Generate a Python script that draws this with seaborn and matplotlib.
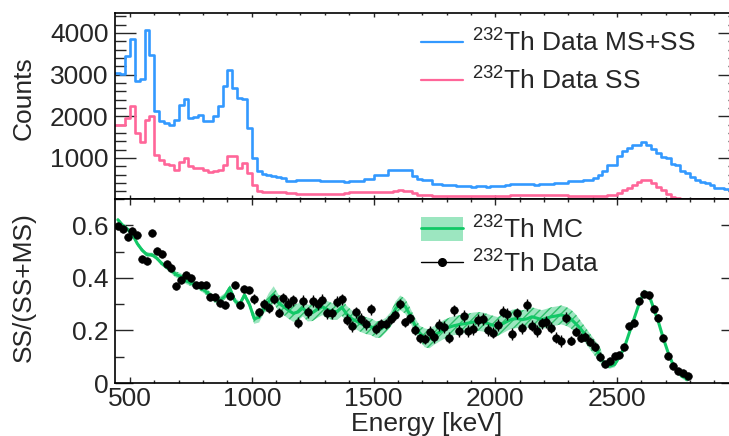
import numpy as np
import pandas as pd
import matplotlib
matplotlib.use("Agg")
import matplotlib.pyplot as plt
import seaborn as sns
from matplotlib.lines import Line2D
from matplotlib.patches import Patch
from matplotlib.ticker import MultipleLocator, FixedLocator, FuncFormatter

# ---------------------------------------------------------------- data
# 20 keV binning from 440 keV to 3000 keV
E_LOW, E_HIGH, BIN_WIDTH = 440, 3000, 20
energy_ticks = [500, 1000, 1500, 2000, 2500]

# MS+SS spectrum (counts per bin)
counts_ms_ss = [
    3050, 3020, 3440, 3850, 2840, 2890, 4080, 3480, 2120, 1880,
    1840, 1800, 1920, 2260, 2415, 1960, 1990, 2040, 1880, 1880,
    2000, 2240, 2720, 3100, 2680, 2440, 2420, 1720, 1000, 680,
    610, 600, 560, 540, 520, 450, 440, 460, 460, 470,
    470, 470, 450, 440, 440, 450, 440, 430, 440, 440,
    450, 490, 490, 590, 600, 600, 700, 720, 720, 720,
    700, 560, 500, 480, 470, 380, 370, 360, 350, 340,
    320, 330, 320, 310, 320, 320, 310, 320, 330, 320,
    340, 370, 380, 370, 380, 370, 360, 370, 380, 370,
    400, 400, 390, 450, 450, 455, 460, 470, 530, 580,
    680, 840, 840, 1040, 1160, 1230, 1310, 1320, 1375, 1320,
    1210, 1120, 1020, 1010, 860, 830, 680, 650, 545, 480,
    420, 410, 360, 280, 270, 250, 230, 210,
]

# SS spectrum (counts per bin)
counts_ss = [
    1800, 1780, 1960, 2240, 1600, 1375, 1900, 2000, 1080, 940,
    860, 840, 720, 900, 1000, 800, 760, 760, 720, 660,
    680, 720, 840, 1040, 1040, 760, 880, 640, 360, 200,
    190, 190, 185, 180, 180, 170, 160, 140, 140, 140,
    140, 135, 135, 130, 130, 135, 140, 170, 180, 180,
    175, 180, 180, 190, 190, 185, 190, 200, 220, 200,
    200, 160, 120, 120, 110, 90, 85, 80, 80, 80,
    80, 80, 80, 80, 80, 80, 80, 80, 80, 80,
    80, 110, 120, 120, 120, 120, 120, 120, 120, 120,
    120, 100, 100, 90, 90, 85, 85, 80, 80, 80,
    80, 100, 110, 150, 230, 290, 340, 420, 470, 460,
    400, 310, 225, 130, 70, 40, 25, 20, 15, 15,
    12, 12, 10, 10, 10, 10, 10, 10,
]

# SS fraction, measured (bin centres 450 ... 2790 keV)
ratio_data = [
    0.598, 0.587, 0.557, 0.577, 0.564, 0.472, 0.466, 0.570, 0.504, 0.490,
    0.453, 0.439, 0.370, 0.392, 0.411, 0.399, 0.373, 0.371, 0.373, 0.326,
    0.326, 0.304, 0.295, 0.331, 0.373, 0.295, 0.358, 0.353, 0.320, 0.269,
    0.300, 0.285, 0.319, 0.268, 0.323, 0.301, 0.314, 0.230, 0.312, 0.269,
    0.312, 0.300, 0.316, 0.265, 0.265, 0.310, 0.319, 0.240, 0.215, 0.269,
    0.244, 0.224, 0.281, 0.206, 0.224, 0.224, 0.244, 0.259, 0.300, 0.231,
    0.246, 0.202, 0.170, 0.168, 0.193, 0.176, 0.221, 0.212, 0.173, 0.276,
    0.198, 0.255, 0.198, 0.206, 0.240, 0.243, 0.202, 0.192, 0.221, 0.272,
    0.262, 0.186, 0.265, 0.208, 0.297, 0.218, 0.198, 0.227, 0.231, 0.211,
    0.173, 0.160, 0.249, 0.160, 0.195, 0.173, 0.176, 0.157, 0.138, 0.100,
    0.072, 0.085, 0.104, 0.107, 0.138, 0.217, 0.230, 0.312, 0.339, 0.333,
    0.281, 0.249, 0.170, 0.103, 0.066, 0.047, 0.039, 0.027,
]

# statistical uncertainty of the measured SS fraction
ratio_err = [
    0.008, 0.008, 0.008, 0.008, 0.008, 0.008, 0.008, 0.008, 0.010, 0.010,
    0.010, 0.010, 0.010, 0.010, 0.010, 0.010, 0.010, 0.010, 0.010, 0.010,
    0.010, 0.010, 0.010, 0.010, 0.010, 0.010, 0.010, 0.010, 0.018, 0.018,
    0.018, 0.018, 0.018, 0.018, 0.018, 0.021, 0.021, 0.021, 0.021, 0.021,
    0.021, 0.021, 0.021, 0.021, 0.021, 0.021, 0.021, 0.021, 0.021, 0.021,
    0.021, 0.021, 0.021, 0.018, 0.018, 0.018, 0.018, 0.018, 0.018, 0.018,
    0.018, 0.018, 0.018, 0.018, 0.022, 0.022, 0.022, 0.022, 0.022, 0.022,
    0.022, 0.022, 0.022, 0.022, 0.022, 0.022, 0.022, 0.022, 0.022, 0.022,
    0.022, 0.022, 0.022, 0.022, 0.022, 0.022, 0.022, 0.022, 0.022, 0.022,
    0.022, 0.022, 0.022, 0.017, 0.017, 0.017, 0.017, 0.017, 0.017, 0.017,
    0.009, 0.009, 0.009, 0.012, 0.012, 0.012, 0.012, 0.012, 0.012, 0.012,
    0.012, 0.012, 0.012, 0.008, 0.008, 0.008, 0.008, 0.008,
]

# SS fraction, simulation (bin centres 450 ... 2790 keV)
ratio_mc = [
    0.621, 0.600, 0.585, 0.565, 0.530, 0.505, 0.488, 0.488, 0.475, 0.455,
    0.440, 0.428, 0.412, 0.405, 0.388, 0.381, 0.374, 0.362, 0.349, 0.334,
    0.316, 0.315, 0.330, 0.361, 0.313, 0.298, 0.335, 0.300, 0.245, 0.250,
    0.285, 0.310, 0.336, 0.304, 0.291, 0.277, 0.265, 0.270, 0.285, 0.266,
    0.268, 0.280, 0.290, 0.280, 0.272, 0.272, 0.288, 0.262, 0.245, 0.235,
    0.225, 0.218, 0.214, 0.203, 0.205, 0.220, 0.241, 0.282, 0.305, 0.292,
    0.259, 0.220, 0.190, 0.172, 0.168, 0.182, 0.193, 0.205, 0.212, 0.218,
    0.222, 0.225, 0.228, 0.232, 0.234, 0.232, 0.226, 0.220, 0.215, 0.225,
    0.235, 0.243, 0.245, 0.241, 0.244, 0.252, 0.247, 0.241, 0.246, 0.252,
    0.255, 0.259, 0.254, 0.244, 0.226, 0.207, 0.182, 0.157, 0.132, 0.107,
    0.070, 0.064, 0.070, 0.100, 0.135, 0.190, 0.245, 0.300, 0.345, 0.338,
    0.285, 0.232, 0.170, 0.115, 0.070, 0.040, 0.025, 0.014,
]

# half width of the simulation uncertainty band
mc_band = [
    0.008, 0.008, 0.008, 0.008, 0.008, 0.008, 0.008, 0.008, 0.008, 0.008,
    0.008, 0.012, 0.012, 0.012, 0.012, 0.012, 0.012, 0.012, 0.012, 0.012,
    0.012, 0.012, 0.012, 0.012, 0.012, 0.012, 0.012, 0.012, 0.020, 0.020,
    0.020, 0.032, 0.032, 0.032, 0.032, 0.032, 0.032, 0.032, 0.032, 0.032,
    0.032, 0.032, 0.032, 0.032, 0.032, 0.032, 0.032, 0.032, 0.032, 0.032,
    0.032, 0.032, 0.032, 0.032, 0.032, 0.028, 0.028, 0.028, 0.028, 0.028,
    0.028, 0.028, 0.028, 0.036, 0.036, 0.036, 0.036, 0.036, 0.036, 0.036,
    0.036, 0.036, 0.036, 0.036, 0.036, 0.036, 0.036, 0.036, 0.036, 0.036,
    0.036, 0.036, 0.036, 0.036, 0.036, 0.036, 0.036, 0.036, 0.036, 0.036,
    0.036, 0.036, 0.036, 0.036, 0.036, 0.030, 0.030, 0.030, 0.030, 0.030,
    0.010, 0.010, 0.010, 0.010, 0.010, 0.010, 0.010, 0.010, 0.010, 0.010,
    0.010, 0.010, 0.010, 0.010, 0.010, 0.010, 0.010, 0.010,
]

label_all = r"$^{232}$Th Data MS+SS"
label_ss = r"$^{232}$Th Data SS"
label_mc = r"$^{232}$Th MC"
label_data = r"$^{232}$Th Data"

centres = np.arange(E_LOW, E_HIGH, BIN_WIDTH) + BIN_WIDTH / 2
ratio_energy = np.arange(450, 2791, 20)
assert len(counts_ms_ss) == len(counts_ss) == len(centres)
assert len(ratio_data) == len(ratio_err) == len(ratio_mc) == len(mc_band) == len(ratio_energy)

spectra = pd.DataFrame({"energy": centres, "all": counts_ms_ss, "ss": counts_ss})
ratio = pd.DataFrame({"energy": ratio_energy, "data": ratio_data,
                      "err": ratio_err, "mc": ratio_mc, "band": mc_band})

# ---------------------------------------------------------------- style
sns.set_style("ticks")
plt.rcParams["font.family"] = ["Liberation Sans", "DejaVu Sans"]
plt.rcParams["mathtext.fontset"] = "custom"
plt.rcParams["mathtext.rm"] = "Liberation Sans"
plt.rcParams["mathtext.it"] = "Liberation Sans:italic"
plt.rcParams["mathtext.default"] = "regular"

BLUE = "#3399ff"
PINK = "#ff6699"
GREEN = "#11c866"
BAND = "#9ce6c0"
HATCH = "#2fbf6a"
FS = 19

W, H = 729, 436
fig = plt.figure(figsize=(W / 100, H / 100), dpi=100)
x0, x1 = 115.4, 738.8
ax1 = fig.add_axes([x0 / W, 1 - 199 / H, (x1 - x0) / W, (199 - 13) / H])
ax2 = fig.add_axes([x0 / W, 1 - 383 / H, (x1 - x0) / W, (383 - 199) / H])

# ---------------------------------------------------------------- spectra
hist_kw = dict(binwidth=BIN_WIDTH, binrange=(E_LOW, E_HIGH), element="step",
               fill=False, linewidth=1.9, ax=ax1)
sns.histplot(data=spectra, x="energy", weights="all", color=BLUE, **hist_kw)
sns.histplot(data=spectra, x="energy", weights="ss", color=PINK, **hist_kw)
ax1.set_xlim(E_LOW, E_HIGH)
ax1.set_ylim(15, 4480)
ax1.set_xlabel("")
ax1.set_ylabel("")
ax1.yaxis.set_major_locator(MultipleLocator(1000))
ax1.yaxis.set_minor_locator(MultipleLocator(200))
ax1.tick_params(labelbottom=False)

leg1 = ax1.legend(
    [Line2D([], [], color=BLUE, lw=1.6), Line2D([], [], color=PINK, lw=1.6)],
    [label_all, label_ss], loc="upper left",
    bbox_to_anchor=(421 / W, 1 - 29 / H), bbox_transform=fig.transFigure,
    frameon=False, fontsize=FS, handlelength=1.6, handletextpad=0.35,
    borderpad=0, borderaxespad=0, labelspacing=0.42)

# ---------------------------------------------------------------- SS fraction
ax2.fill_between(ratio["energy"], ratio["mc"] - ratio["band"],
                 ratio["mc"] + ratio["band"],
                 facecolor=BAND, edgecolor=HATCH, hatch="////", linewidth=0,
                 zorder=1)
sns.lineplot(data=ratio, x="energy", y="mc", color=GREEN, linewidth=2.2,
             ax=ax2, zorder=2)
ax2.errorbar(ratio["energy"], ratio["data"], yerr=ratio["err"], fmt="none",
             ecolor="black", elinewidth=1.0, capsize=0, zorder=3)
sns.scatterplot(data=ratio, x="energy", y="data", color="black", s=30,
                edgecolor="black", linewidth=0.5, ax=ax2, zorder=4)
ax2.set_xlim(E_LOW, E_HIGH)
ax2.set_ylim(0, 0.7)
ax2.yaxis.set_major_locator(MultipleLocator(0.2))
ax2.yaxis.set_minor_locator(MultipleLocator(0.1))
ax2.yaxis.set_major_formatter(FuncFormatter(lambda v, p: "0" if abs(v) < 1e-9 else f"{v:.1f}"))

mc_handle = (Patch(facecolor=BAND, edgecolor="none"),
             Line2D([], [], color=GREEN, lw=2.0))
data_handle = Line2D([], [], color="black", lw=1.0, marker="o", markersize=5.5)
leg2 = ax2.legend(
    [mc_handle, data_handle], [label_mc, label_data], loc="upper left",
    bbox_to_anchor=(421 / W, 1 - 216 / H), bbox_transform=fig.transFigure,
    frameon=False, fontsize=FS, handlelength=1.6, handletextpad=0.35,
    handleheight=1.0, borderpad=0, borderaxespad=0, labelspacing=0.28)

# ---------------------------------------------------------------- axes frame
for ax, (ymaj, ymin), (xmaj, xmin) in ((ax1, (15, 8), (3, 1.6)),
                                       (ax2, (13, 6.5), (4.3, 2.2))):
    ax.xaxis.set_major_locator(FixedLocator(energy_ticks))
    ax.xaxis.set_minor_locator(MultipleLocator(100))
    ax.tick_params(which="both", direction="in", top=True, right=True,
                   bottom=True, left=True, width=1.0, labelsize=FS, pad=5)
    ax.tick_params(axis="y", which="major", length=ymaj)
    ax.tick_params(axis="y", which="minor", length=ymin)
    ax.tick_params(axis="x", which="major", length=xmaj)
    ax.tick_params(axis="x", which="minor", length=xmin)
    for sp in ax.spines.values():
        sp.set_linewidth(1.2)
        sp.set_color("black")
ax2.tick_params(axis="x", pad=3)

ax2.set_xlabel("Energy [keV]", fontsize=FS)
ax2.xaxis.set_label_coords(0.5, -(431 - 383) / 184)
ax2.xaxis.label.set_va("baseline")
ax2.set_ylabel("")
fig.text(24 / W, 1 - 98 / H, "Counts", rotation=90, ha="center", va="center",
         fontsize=FS)
fig.text(24 / W, 1 - 287 / H, "SS/(SS+MS)", rotation=90, ha="center",
         va="center", fontsize=FS)

fig.savefig("out.png", dpi=100)
